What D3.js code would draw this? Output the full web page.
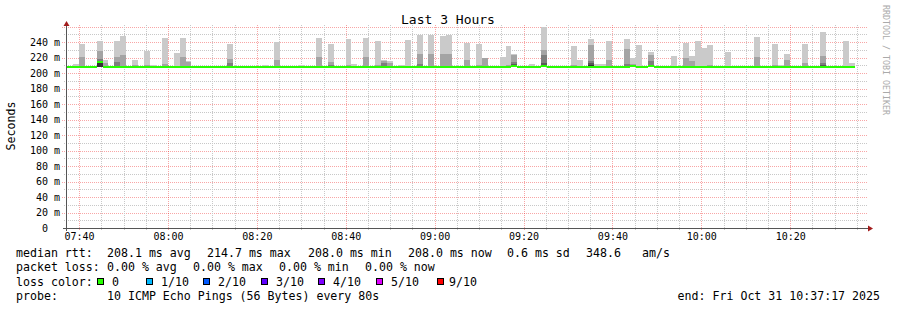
<!DOCTYPE html>
<html>
<head>
<meta charset="utf-8">
<script src="https://cdn.jsdelivr.net/npm/d3@7"></script>
<style>
  body { margin: 0; background: #fff; }
  text { font-family: "DejaVu Sans Mono", monospace; white-space: pre; }
</style>
</head>
<body>
<svg id="chart" width="897" height="310"></svg>
<script>
// probe: 10 pings every 80 s, last 3 hours
const stepSeconds = 80;
const startTime = new Date(2025, 9, 31, 7, 37, 17);
const endTime = new Date(2025, 9, 31, 10, 37, 17);
const lowestPing = 208.0;

// median rtt per step (ms)
const medianRtt = [
  208, 208, 208, 208, 208, 214.7, 208, 208, 208, 208,
  208, 208, 208, 208, 208, 208, 208, 208, 208, 208,
  208, 208, 208, 208, 208, 208, 208, 208, 208, 208,
  208, 208, 208, 208, 208, 208, 208, 208, 208, 208,
  208, 208, 208, 208, 208, 208, 208, 208, 208, 208,
  208, 208, 208, 208, 208, 208, 208, 208, 208, 208,
  208, 208, 208, 208, 208, 208, 208, 208, 208, 208,
  208, 208, 208, 208, 208, 209.3, 208, 208, 208, 208,
  209.8, 208, 208, 208, 208, 208, 208, 208, 208.4, 208,
  208, 208, 208, 208, 208, 209.8, 208, 208, 209.8, 208,
  208, 208, 208, 208, 208, 208, 208, 208, 208, 208,
  208, 208, 208, 208, 208, 208, 208, 208, 208, 208,
  208, 208, 208, 208, 208, 208, 208, 208, 208, 208,
  208, 208, 208
];

// sorted pings, highest first (ms): 10th, 9th, 8th, 7th, 6th
const ping10 = [
  208, 212, 237, 208, 208, 242, 216.6, 208, 242, 248,
  208, 216.6, 208, 229, 210, 208, 245.6, 208, 225.7, 245.6,
  215, 208, 208, 208, 209.5, 208, 208, 237, 208, 208,
  208, 208, 208, 210, 208, 240, 208, 208, 208, 210,
  208, 208, 245, 208, 237, 208, 208, 244, 212, 208,
  245, 209, 241, 216.6, 215, 209, 210, 242.6, 208, 249,
  208, 249, 208, 248, 249, 208, 208, 238.7, 208, 237.4,
  220, 208, 208, 221, 234.8, 224.5, 208, 208, 212, 209.5,
  259.5, 208, 208, 208, 208, 234.8, 216.6, 208, 244, 212,
  212, 241.3, 208, 209.5, 244, 219.7, 236, 208, 227, 208,
  208, 208, 221.8, 208, 238.7, 221.8, 241.3, 232.2, 236, 208,
  208, 227, 208, 208, 208, 208, 246.5, 208, 208, 237.4,
  210, 224.4, 208, 208, 237.4, 208, 208, 253, 208, 208,
  208, 241.3, 213
];
const ping9 = [
  208, 208, 221, 208, 208, 228, 213.6, 208, 221, 224,
  208, 210, 208, 210, 208, 208, 212, 208, 208, 221.4,
  214, 208, 208, 208, 208, 208, 208, 218, 208, 208,
  208, 208, 208, 208, 208, 217, 208, 208, 208, 208,
  208, 208, 221, 208, 214.5, 208, 208, 210, 208, 208,
  221, 208, 210, 215, 213, 208, 208, 208, 208, 224.4,
  208, 224.4, 208, 224.4, 224.4, 208, 208, 216.6, 208, 210,
  219.5, 208, 208, 208, 210, 224, 208, 208, 208, 208,
  230, 208, 208, 208, 208, 210, 208, 208, 236, 208,
  208, 216.6, 208, 208, 231, 212, 208, 208, 223, 208,
  208, 208, 208, 208, 219.7, 215, 208, 208, 210, 208,
  208, 208, 208, 208, 208, 208, 221, 208, 208, 210,
  208, 216.6, 208, 208, 213, 208, 208, 221.8, 208, 208,
  208, 208, 208
];
const ping8 = [
  208, 208, 208, 208, 208, 218, 208, 208, 214, 208,
  208, 208, 208, 208, 208, 208, 208, 208, 208, 208,
  208, 208, 208, 208, 208, 208, 208, 213.6, 208, 208,
  208, 208, 208, 208, 208, 208, 208, 208, 208, 208,
  208, 208, 208, 208, 210, 208, 208, 208, 208, 208,
  208, 208, 208, 213.6, 208, 208, 208, 208, 208, 212,
  208, 208, 208, 208, 208, 208, 208, 208, 208, 208,
  208, 208, 208, 208, 208, 214.5, 208, 208, 208, 208,
  223.6, 208, 208, 208, 208, 208, 208, 208, 215.3, 208,
  208, 208, 208, 208, 212, 208, 208, 208, 215, 208,
  208, 208, 208, 208, 208, 208, 208, 208, 208, 208,
  208, 208, 208, 208, 208, 208, 208, 208, 208, 208,
  208, 208, 208, 208, 208, 208, 208, 213.6, 208, 208,
  208, 208, 208
];
const ping7 = [
  208, 208, 208, 208, 208, 216, 208, 208, 208, 208,
  208, 208, 208, 208, 208, 208, 208, 208, 208, 208,
  208, 208, 208, 208, 208, 208, 208, 208, 208, 208,
  208, 208, 208, 208, 208, 208, 208, 208, 208, 208,
  208, 208, 208, 208, 208, 208, 208, 208, 208, 208,
  208, 208, 208, 208, 208, 208, 208, 208, 208, 208,
  208, 208, 208, 208, 208, 208, 208, 208, 208, 208,
  208, 208, 208, 208, 208, 212, 208, 208, 208, 208,
  213.6, 208, 208, 208, 208, 208, 208, 208, 213, 208,
  208, 208, 208, 208, 208, 208, 208, 208, 208, 208,
  208, 208, 208, 208, 208, 208, 208, 208, 208, 208,
  208, 208, 208, 208, 208, 208, 208, 208, 208, 208,
  208, 208, 208, 208, 208, 208, 208, 211, 208, 208,
  208, 208, 208
];
const ping6 = [
  208, 208, 208, 208, 208, 215.5, 208, 208, 208, 208,
  208, 208, 208, 208, 208, 208, 208, 208, 208, 208,
  208, 208, 208, 208, 208, 208, 208, 208, 208, 208,
  208, 208, 208, 208, 208, 208, 208, 208, 208, 208,
  208, 208, 208, 208, 208, 208, 208, 208, 208, 208,
  208, 208, 208, 208, 208, 208, 208, 208, 208, 208,
  208, 208, 208, 208, 208, 208, 208, 208, 208, 208,
  208, 208, 208, 208, 208, 210.3, 208, 208, 208, 208,
  211, 208, 208, 208, 208, 208, 208, 208, 210.3, 208,
  208, 208, 208, 208, 208, 208, 208, 208, 208, 208,
  208, 208, 208, 208, 208, 208, 208, 208, 208, 208,
  208, 208, 208, 208, 208, 208, 208, 208, 208, 208,
  208, 208, 208, 208, 208, 208, 208, 209.5, 208, 208,
  208, 208, 208
];
const smokeColors = ['#cacaca', '#a4a4a4', '#7e7e7e', '#585858', '#323232'];

const yTicks = [0, 20, 40, 60, 80, 100, 120, 140, 160, 180, 200, 220, 240];

const legendStats = [
  ['median rtt:', 16], ['208.1 ms avg', 107], ['214.7 ms max', 207], ['208.0 ms min', 308],
  ['208.0 ms now', 408], ['0.6 ms sd', 507], ['348.6', 586], ['am/s', 642]
];
const legendLoss = [
  ['packet loss:', 16], ['0.00 % avg', 107], ['0.00 % max', 193], ['0.00 % min', 279], ['0.00 % now', 365]
];
const lossLabels = ['0', '1/10', '2/10', '3/10', '4/10', '5/10', '9/10'];
const lossColors = ['#26ff00', '#00b8ff', '#0059ff', '#5e00ff', '#7e00ff', '#dd00ff', '#ff0000'];
const lossBoxX = [97, 146, 203, 261, 318, 376, 437];
const lossTextX = [112, 161, 218, 276, 333, 391, 449];

const plotLeft = 67, plotRight = 867, plotTop = 22, plotBottom = 228;

const x = d3.scaleTime().domain([startTime, endTime]).range([plotLeft, plotRight]);
const y = d3.scaleLinear().domain([0, 266]).range([plotBottom, plotTop]);
const stepTime = (i) => new Date(startTime.getTime() + i * stepSeconds * 1000);

const svg = d3.select('#chart');
svg.append('rect').attr('width', 897).attr('height', 310).attr('fill', '#fff');

// grid, minor then major
const minorColor = '#c8c8c8', majorColor = 'rgba(235,0,0,0.35)';
const grid = svg.append('g').attr('shape-rendering', 'crispEdges');

d3.range(10, 261, 10).forEach(v => {
  const major = v % 20 === 0;
  const yy = Math.round(y(v)) + 0.5;
  grid.append('line')
    .attr('x1', major ? 62 : 64).attr('x2', plotRight + 1)
    .attr('y1', yy).attr('y2', yy)
    .attr('stroke', major ? majorColor : minorColor)
    .attr('stroke-dasharray', '1,1');
});

x.ticks(d3.timeMinute.every(5)).forEach(t => {
  const major = t.getMinutes() % 20 === 0;
  const xx = Math.round(x(t)) + 0.5;
  grid.append('line')
    .attr('x1', xx).attr('x2', xx)
    .attr('y1', 25).attr('y2', plotBottom + 3)
    .attr('stroke', major ? majorColor : minorColor)
    .attr('stroke-dasharray', '1,1');
});

// smoke: outer pair lightest, inner pairs darker
const layers = [ping10, ping9, ping8, ping7, ping6];
const smoke = svg.append('g').attr('shape-rendering', 'crispEdges');
layers.forEach((vals, li) => {
  smoke.selectAll(null)
    .data(vals.map((v, i) => ({ v, i })).filter(d => d.v > lowestPing))
    .join('rect')
    .attr('x', d => Math.round(x(stepTime(d.i))))
    .attr('width', d => Math.round(x(stepTime(d.i + 1))) - Math.round(x(stepTime(d.i))))
    .attr('y', d => Math.round(y(d.v)))
    .attr('height', d => Math.round(y(lowestPing)) - Math.round(y(d.v)))
    .attr('fill', smokeColors[li]);
});

// median line, colored by loss (all 0 here)
svg.append('g').attr('shape-rendering', 'crispEdges')
  .selectAll('rect')
  .data(medianRtt)
  .join('rect')
  .attr('x', (d, i) => Math.round(x(stepTime(i))))
  .attr('width', (d, i) => Math.round(x(stepTime(i + 1))) - Math.round(x(stepTime(i))))
  .attr('y', d => Math.round(y(d)) - 1)
  .attr('height', 2)
  .attr('fill', lossColors[0]);

// axes
const axisColor = '#555', arrowColor = '#a31c1c';
svg.append('line').attr('x1', plotLeft - 0.5).attr('x2', plotLeft - 0.5).attr('y1', 25).attr('y2', plotBottom + 3)
  .attr('stroke', axisColor);
svg.append('line').attr('x1', 63).attr('x2', plotRight + 2).attr('y1', plotBottom + 0.5).attr('y2', plotBottom + 0.5)
  .attr('stroke', axisColor);
svg.append('path').attr('d', `M${plotLeft - 3.5},26 L${plotLeft - 0.5},21 L${plotLeft + 2.5},26 Z`).attr('fill', arrowColor);
svg.append('path').attr('d', `M${plotRight + 1},${plotBottom - 2.5} L${plotRight + 6},${plotBottom + 0.5} L${plotRight + 1},${plotBottom + 3.5} Z`).attr('fill', arrowColor);

const xAxis = svg.append('g')
  .attr('transform', `translate(0,${plotBottom})`)
  .call(d3.axisBottom(x).ticks(d3.timeMinute.every(20)).tickFormat(d3.timeFormat('%H:%M')).tickSize(0).tickPadding(5));
xAxis.select('.domain').remove();
xAxis.selectAll('text').attr('font-size', 10).attr('fill', '#000').attr('font-family', '"DejaVu Sans Mono", monospace');

const yAxis = svg.append('g')
  .attr('transform', `translate(${plotLeft},0)`)
  .call(d3.axisLeft(y).tickValues(yTicks).tickFormat(d => d ? d + ' m' : '0  ').tickSize(0).tickPadding(7));
yAxis.select('.domain').remove();
yAxis.selectAll('text').attr('font-size', 10).attr('fill', '#000').attr('font-family', '"DejaVu Sans Mono", monospace');

// titles
svg.append('text').attr('x', 448).attr('y', 24).attr('text-anchor', 'middle')
  .attr('font-size', 13).text('Last 3 Hours');
svg.append('text').attr('transform', 'translate(15,126) rotate(-90)').attr('text-anchor', 'middle')
  .attr('font-size', 11.6).text('Seconds');
svg.append('text').attr('transform', 'translate(883,5) rotate(90)')
  .attr('font-size', 8.3).attr('fill', '#aaa').text('RRDTOOL / TOBI OETIKER');

// legend
const legend = svg.append('g').attr('font-size', 11.6);
legendStats.forEach(([t, lx]) => legend.append('text').attr('x', lx).attr('y', 257).text(t));
legendLoss.forEach(([t, lx]) => legend.append('text').attr('x', lx).attr('y', 271).text(t));
legend.append('text').attr('x', 16).attr('y', 285.5).text('loss color:');
lossLabels.forEach((t, i) => {
  legend.append('rect').attr('x', lossBoxX[i] + 0.5).attr('y', 278.5).attr('width', 6).attr('height', 6)
    .attr('fill', lossColors[i]).attr('stroke', '#000');
  legend.append('text').attr('x', lossTextX[i]).attr('y', 285.5).text(t);
});
legend.append('text').attr('x', 16).attr('y', 300).text('probe:');
legend.append('text').attr('x', 107).attr('y', 300).text('10 ICMP Echo Pings (56 Bytes) every 80s');
legend.append('text').attr('x', 880).attr('y', 300).attr('text-anchor', 'end').text('end: Fri Oct 31 10:37:17 2025');
</script>
</body>
</html>
